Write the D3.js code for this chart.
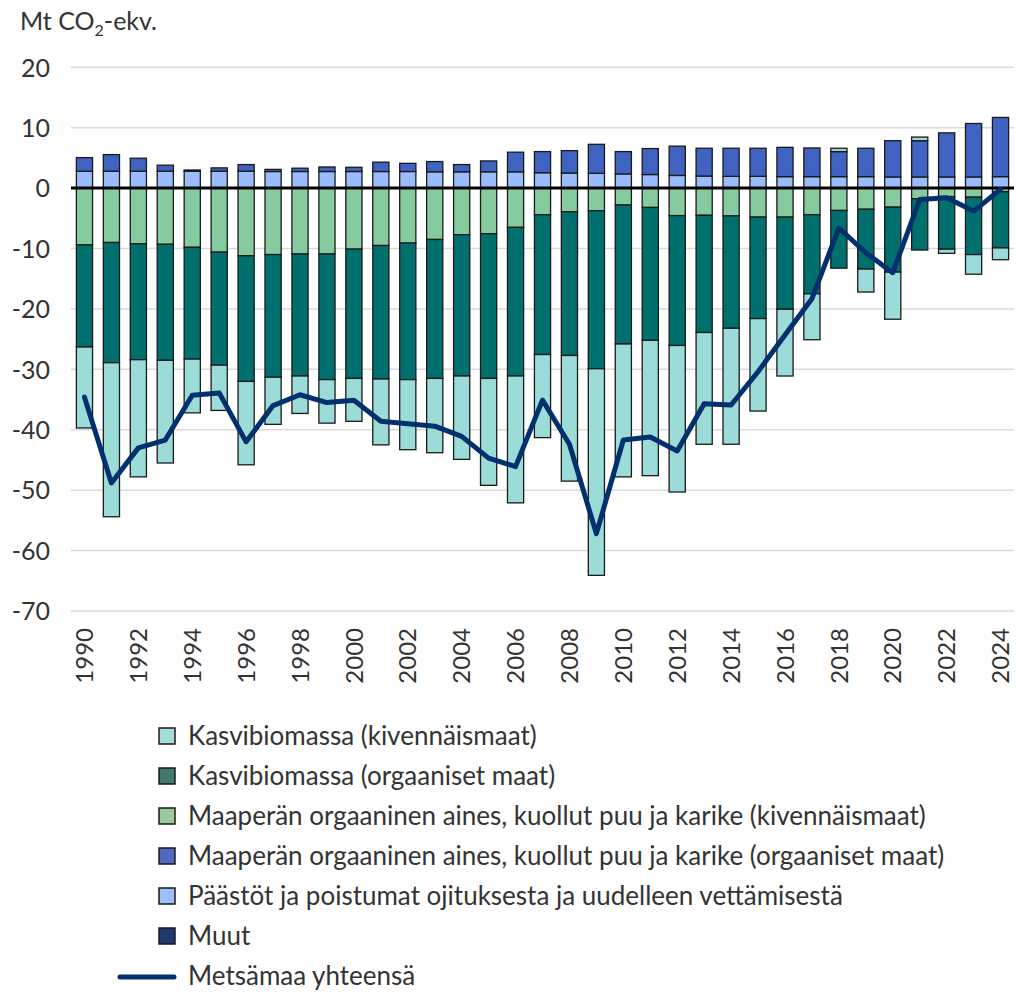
<!DOCTYPE html>
<html>
<head>
<meta charset="utf-8">
<script src="https://cdn.jsdelivr.net/npm/d3@7"></script>
<style>
  html, body { margin: 0; padding: 0; background: #fff; }
  svg { display: block; }
  text { font-family: Lato, "Open Sans", sans-serif; fill: #333; }
</style>
</head>
<body>
<svg id="chart" width="1016" height="994"></svg>
<script>
const years = d3.range(1990, 2025).map(String);

// Päästöt ja poistumat ojituksesta ja uudelleen vettämisestä
const paastot = [2.8,2.8,2.8,2.8,2.8,2.8,2.8,2.75,2.75,2.75,2.75,2.75,2.75,2.7,2.7,2.7,2.7,2.55,2.5,2.45,2.35,2.25,2.1,2.0,1.95,1.95,1.9,1.9,1.9,1.9,1.85,1.85,1.85,1.85,1.9];
// Maaperän orgaaninen aines, kuollut puu ja karike (orgaaniset maat)
const maaperaOrg = [2.25,2.75,2.15,1.0,0.2,0.55,1.1,0.35,0.55,0.75,0.7,1.55,1.35,1.7,1.2,1.8,3.25,3.5,3.7,4.8,3.7,4.3,4.85,4.6,4.65,4.65,4.85,4.75,4.15,4.7,6.0,6.0,7.3,8.85,9.8];
// Maaperän orgaaninen aines, kuollut puu ja karike (kivennäismaat)
const maaperaKiv = [-9.4,-9.0,-9.2,-9.3,-9.8,-10.6,-11.2,-11.0,-10.9,-10.9,-10.1,-9.5,-9.1,-8.5,-7.7,-7.55,-6.5,-4.4,-3.9,-3.75,-2.8,-3.2,-4.55,-4.5,-4.6,-4.8,-4.8,-4.4,-3.7,-3.5,-3.15,-1.75,-1.4,-1.5,-0.6];
// Kasvibiomassa (orgaaniset maat)
const kasviOrg = [-16.9,-19.9,-19.2,-19.2,-18.5,-18.7,-20.8,-20.3,-20.2,-20.8,-21.4,-22.1,-22.6,-23.0,-23.4,-23.95,-24.6,-23.15,-23.8,-26.15,-23.0,-22.0,-21.5,-19.4,-18.6,-16.8,-15.25,-13.1,-9.55,-9.9,-10.75,-8.5,-8.7,-9.5,-9.3];
// Kasvibiomassa (kivennäismaat)
const kasviKiv = [-13.4,-25.5,-19.4,-17.0,-8.9,-7.5,-13.8,-7.8,-6.2,-7.2,-7.1,-10.9,-11.6,-12.3,-13.8,-17.7,-21.0,-13.75,-20.8,-34.2,-22.0,-22.4,-24.25,-18.5,-19.2,-15.3,-11.05,-7.6,0.55,-3.8,-7.8,0.6,-0.7,-3.25,-1.95];
// Muut
const muut = [0,0,0,0,0,0,0,0,0,0,0,0,0,0,0,0,0,0,0,0,0,0,0,0,0,0,0,0,0,0,0,0,0,0,0];
// Metsämaa yhteensä
const yhteensa = [-34.6,-48.8,-43.0,-41.7,-34.3,-33.9,-42.0,-36.0,-34.2,-35.5,-35.1,-38.6,-39.0,-39.4,-41.1,-44.7,-46.1,-35.1,-42.4,-57.2,-41.7,-41.2,-43.5,-35.7,-35.9,-30.4,-24.3,-18.3,-6.6,-10.7,-14.0,-1.9,-1.6,-3.8,-0.2];

const yTicks = [20,10,0,-10,-20,-30,-40,-50,-60,-70];
const xTickYears = years.filter((d,i) => i % 2 === 0);

const series = [
  {key: "kasviKiv", label: "Kasvibiomassa (kivennäismaat)", color: "#9bdcd9", legendColor: "#a6dcd6", values: kasviKiv},
  {key: "kasviOrg", label: "Kasvibiomassa (orgaaniset maat)", color: "#00706e", legendColor: "#3f7870", values: kasviOrg},
  {key: "maaperaKiv", label: "Maaperän orgaaninen aines, kuollut puu ja karike (kivennäismaat)", color: "#86cba0", legendColor: "#9acb9f", values: maaperaKiv},
  {key: "maaperaOrg", label: "Maaperän orgaaninen aines, kuollut puu ja karike (orgaaniset maat)", color: "#4062c0", legendColor: "#5068c0", values: maaperaOrg},
  {key: "paastot", label: "Päästöt ja poistumat ojituksesta ja uudelleen vettämisestä", color: "#9bbcfc", legendColor: "#9cc0fc", values: paastot},
  {key: "muut", label: "Muut", color: "#203870", legendColor: "#203870", values: muut}
];
const lineColor = "#00306e";

// stacking order (bottom-up from zero)
const stackKeys = ["paastot","maaperaKiv","maaperaOrg","kasviOrg","kasviKiv","muut"];
const table = years.map((y,i) => {
  const row = {year: y};
  series.forEach(s => row[s.key] = s.values[i]);
  return row;
});
const stacked = d3.stack().keys(stackKeys).offset(d3.stackOffsetDiverging)(table);
const colorOf = Object.fromEntries(series.map(s => [s.key, s.color]));

const svg = d3.select("#chart");
const left = 71, right = 1014;
const x = d3.scaleBand().domain(years).range([left, right]).paddingInner(0.4).paddingOuter(0.2);
const y = d3.scaleLinear().domain([-70, 20]).range([611, 67.3]);

// title
const title = svg.append("text").attr("x", 20).attr("y", 30).attr("font-size", 25);
title.append("tspan").text("Mt CO");
title.append("tspan").attr("font-size", 16).attr("dy", 6).text("2");
title.append("tspan").attr("dy", -6).text("-ekv.");

// gridlines
svg.append("g").selectAll("line").data(yTicks.filter(d => d !== 0)).join("line")
  .attr("x1", left).attr("x2", right)
  .attr("y1", d => y(d)).attr("y2", d => y(d))
  .attr("stroke", "#d9d9d9").attr("stroke-width", 1.5);

// y axis labels
const yAxis = svg.append("g").attr("transform", `translate(50,0)`)
  .call(d3.axisLeft(y).tickValues(yTicks).tickSize(0).tickPadding(0).tickFormat(d3.format("d")));
yAxis.select(".domain").remove();
yAxis.selectAll("text").attr("font-size", 25).attr("font-family", "Lato, sans-serif").attr("fill", "#444").attr("dy", "0.35em")
  .text(d => String(d).replace("-", "-"));

// bars
svg.append("g").selectAll("g").data(stacked).join("g")
  .attr("fill", d => colorOf[d.key])
  .selectAll("rect").data(d => d.filter(p => p[1] - p[0] !== 0)).join("rect")
  .attr("x", d => x(d.data.year))
  .attr("width", x.bandwidth())
  .attr("y", d => y(Math.max(d[0], d[1])))
  .attr("height", d => Math.abs(y(d[0]) - y(d[1])))
  .attr("stroke", "#1a1a1a").attr("stroke-width", 1.3);

// zero line
svg.append("line").attr("x1", left).attr("x2", right).attr("y1", y(0)).attr("y2", y(0))
  .attr("stroke", "#000").attr("stroke-width", 3);

// total line
svg.append("path").datum(yhteensa)
  .attr("fill", "none").attr("stroke", lineColor).attr("stroke-width", 5)
  .attr("stroke-linejoin", "round").attr("stroke-linecap", "round")
  .attr("d", d3.line().x((d,i) => x(years[i]) + x.bandwidth()/2).y(d => y(d)));

// x axis labels
const xAxis = svg.append("g").attr("transform", `translate(0,${y(-70) + 17})`)
  .call(d3.axisBottom(x).tickValues(xTickYears).tickSize(0).tickPadding(0));
xAxis.select(".domain").remove();
xAxis.selectAll("text")
  .attr("font-family", "'Liberation Sans', Arial, sans-serif").attr("font-size", 24).attr("fill", "#111")
  .attr("transform", "rotate(-90)").attr("text-anchor", "end").attr("x", 0).attr("y", 0).attr("dy", "0.36em");

// legend
const legend = svg.append("g");
const rowY = d => 736 + d * 40;
series.forEach((s, i) => {
  legend.append("rect").attr("x", 159).attr("y", rowY(i) - 8).attr("width", 16).attr("height", 16)
    .attr("fill", s.legendColor).attr("stroke", "#1a1a1a").attr("stroke-width", 1.5);
  legend.append("text").attr("x", 188).attr("y", rowY(i)).attr("dy", "0.35em")
    .attr("font-size", 26).attr("fill", "#111").text(s.label);
});
legend.append("line").attr("x1", 120).attr("x2", 174).attr("y1", rowY(6) + 1).attr("y2", rowY(6) + 1)
  .attr("stroke", lineColor).attr("stroke-width", 5).attr("stroke-linecap", "round");
legend.append("text").attr("x", 188).attr("y", rowY(6)).attr("dy", "0.35em")
  .attr("font-size", 26).attr("fill", "#111").text("Metsämaa yhteensä");
</script>
</body>
</html>
